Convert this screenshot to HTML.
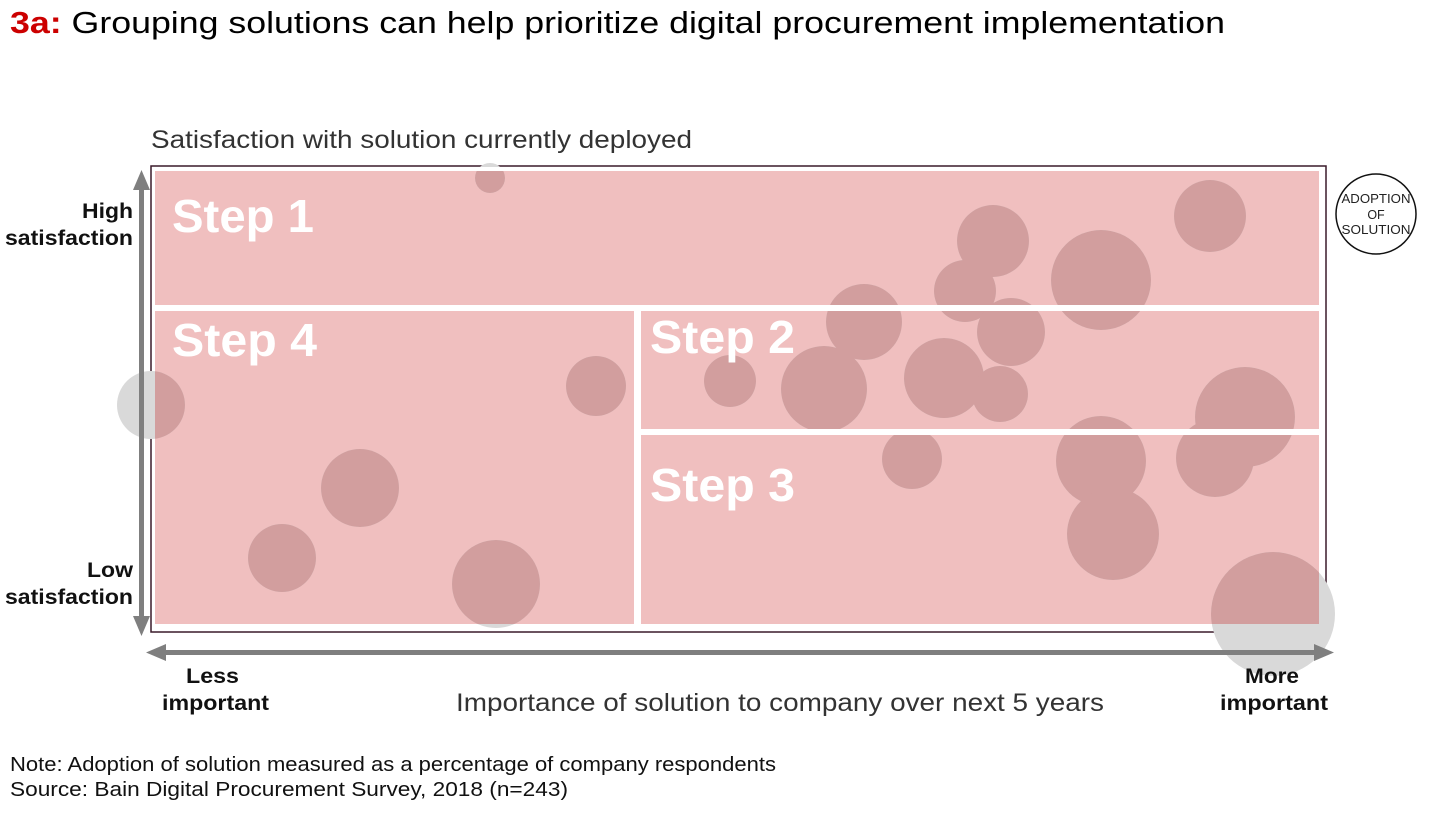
<!DOCTYPE html>
<html><head><meta charset="utf-8"><style>
body{margin:0;width:1440px;height:810px;background:#fff;overflow:hidden;font-family:"Liberation Sans",Arial,sans-serif}
</style></head><body>
<svg width="1440" height="810" xmlns="http://www.w3.org/2000/svg" font-family="Liberation Sans, Arial, sans-serif">
<defs>
<clipPath id="pk">
<rect x="155" y="171" width="1164" height="134"/>
<rect x="155" y="311" width="479" height="313"/>
<rect x="641" y="311" width="678" height="118"/>
<rect x="641" y="435" width="678" height="189"/>
</clipPath>
<g id="bub">
<circle cx="490" cy="178" r="15"/><circle cx="1210" cy="216" r="36"/><circle cx="993" cy="241" r="36"/>
<circle cx="965" cy="291" r="31"/><circle cx="1101" cy="280" r="50"/><circle cx="864" cy="322" r="38"/>
<circle cx="1011" cy="332" r="34"/><circle cx="730" cy="381" r="26"/><circle cx="824" cy="389" r="43"/>
<circle cx="944" cy="378" r="40"/><circle cx="1000" cy="394" r="28"/><circle cx="596" cy="386" r="30"/>
<circle cx="151" cy="405" r="34"/><circle cx="1245" cy="417" r="50"/><circle cx="912" cy="459" r="30"/>
<circle cx="1101" cy="461" r="45"/><circle cx="1215" cy="458" r="39"/><circle cx="1113" cy="534" r="46"/>
<circle cx="360" cy="488" r="39"/><circle cx="282" cy="558" r="34"/><circle cx="496" cy="584" r="44"/>
<circle cx="1273" cy="614" r="62"/>
</g>
</defs>
<text x="10" y="33" font-size="31" textLength="1215" lengthAdjust="spacingAndGlyphs"><tspan fill="#cc0000" font-weight="bold">3a:</tspan> Grouping solutions can help prioritize digital procurement implementation</text>
<text x="151" y="148" font-size="25" fill="#333" textLength="541" lengthAdjust="spacingAndGlyphs">Satisfaction with solution currently deployed</text>
<rect x="151" y="166" width="1175" height="466" fill="#fff" stroke="#3a1a2a" stroke-width="1.5"/>
<g fill="#f0bfbf">
<rect x="155" y="171" width="1164" height="134"/>
<rect x="155" y="311" width="479" height="313"/>
<rect x="641" y="311" width="678" height="118"/>
<rect x="641" y="435" width="678" height="189"/>
</g>
<g fill="#d9d9d9"><use href="#bub"/></g>
<g fill="#fff">
<rect x="155" y="305" width="1164" height="6"/>
<rect x="634" y="311" width="7" height="313"/>
<rect x="641" y="429" width="678" height="6"/>
<rect x="155" y="167" width="1170" height="4"/>
</g>
<g fill="#d29e9e" clip-path="url(#pk)"><use href="#bub"/></g>
<g fill="#fff" font-weight="bold" font-size="46">
<text x="172" y="232" textLength="142" lengthAdjust="spacingAndGlyphs">Step 1</text>
<text x="172" y="356" textLength="145" lengthAdjust="spacingAndGlyphs">Step 4</text>
<text x="650" y="353" textLength="145" lengthAdjust="spacingAndGlyphs">Step 2</text>
<text x="650" y="501" textLength="145" lengthAdjust="spacingAndGlyphs">Step 3</text>
</g>
<circle cx="1376" cy="214" r="40" fill="#fff" stroke="#111" stroke-width="1.5"/>
<g font-size="12.5" fill="#222" text-anchor="middle">
<text x="1376" y="203" textLength="69" lengthAdjust="spacingAndGlyphs">ADOPTION</text><text x="1376" y="219">OF</text><text x="1376" y="234" textLength="69" lengthAdjust="spacingAndGlyphs">SOLUTION</text>
</g>
<g fill="#7f7f7f">
<rect x="139" y="186" width="5" height="434"/>
<polygon points="141.5,170 133,190 150,190"/>
<polygon points="141.5,636 133,616 150,616"/>
<rect x="162" y="650" width="1156" height="5"/>
<polygon points="146,652.5 166,644 166,661"/>
<polygon points="1334,652.5 1314,644 1314,661"/>
</g>
<g font-size="21" font-weight="bold" fill="#111">
<text x="82" y="218" textLength="51" lengthAdjust="spacingAndGlyphs">High</text><text x="5" y="245" textLength="128" lengthAdjust="spacingAndGlyphs">satisfaction</text>
<text x="87" y="577" textLength="46" lengthAdjust="spacingAndGlyphs">Low</text><text x="5" y="604" textLength="128" lengthAdjust="spacingAndGlyphs">satisfaction</text>
<text x="186" y="683" textLength="53" lengthAdjust="spacingAndGlyphs">Less</text><text x="162" y="710" textLength="107" lengthAdjust="spacingAndGlyphs">important</text>
<text x="1245" y="683" textLength="54" lengthAdjust="spacingAndGlyphs">More</text><text x="1220" y="710" textLength="108" lengthAdjust="spacingAndGlyphs">important</text>
</g>
<text x="456" y="711" font-size="25" fill="#333" textLength="648" lengthAdjust="spacingAndGlyphs">Importance of solution to company over next 5 years</text>
<text x="10" y="771" font-size="20" fill="#111" textLength="766" lengthAdjust="spacingAndGlyphs">Note: Adoption of solution measured as a percentage of company respondents</text>
<text x="10" y="796" font-size="20" fill="#111" textLength="558" lengthAdjust="spacingAndGlyphs">Source: Bain Digital Procurement Survey, 2018 (n=243)</text>
</svg>
</body></html>
